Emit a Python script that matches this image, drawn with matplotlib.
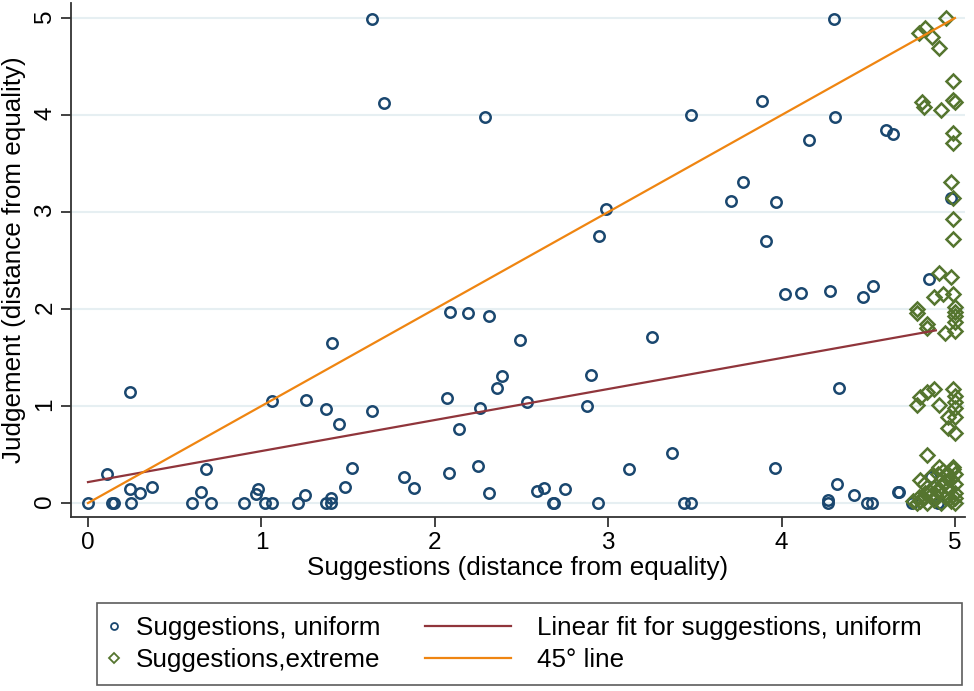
import numpy as np
import matplotlib
matplotlib.use("Agg")
import matplotlib.pyplot as plt
from matplotlib.lines import Line2D

plt.rcParams['font.family'] = ['Liberation Sans', 'DejaVu Sans']

# Suggestions, uniform (x = suggestion, y = judgement)
uniform_x = [0.00, 0.11, 0.14, 0.15, 0.24, 0.24, 0.25, 0.30, 0.37, 0.60,
             0.65, 0.68, 0.71, 0.90, 0.97, 0.98, 1.02, 1.06, 1.06, 1.21,
             1.25, 1.26, 1.37, 1.45, 1.41, 1.37, 1.40, 1.40, 1.48, 1.52,
             1.64, 1.82, 1.88, 2.07, 2.09, 2.19, 2.14, 2.08, 2.25, 2.26,
             2.31, 1.64, 1.71, 2.29, 2.31, 2.49, 3.25, 2.39, 2.36, 2.90,
             2.53, 2.88, 3.37, 3.12, 3.96, 2.59, 2.63, 2.75, 2.68, 2.69,
             2.94, 3.44, 3.48, 2.99, 2.95, 3.71, 3.78, 3.97, 3.91, 3.48,
             3.89, 4.16, 4.30, 4.31, 4.60, 4.64, 4.98, 4.85, 4.02, 4.11,
             4.28, 4.47, 4.53, 4.33, 4.27, 4.27, 4.32, 4.42, 4.49, 4.52,
             4.67, 4.68, 4.75, 4.86, 4.90]
uniform_y = [0.00, 0.30, 0.00, 0.00, 1.14, 0.14, 0.00, 0.10, 0.17, 0.00,
             0.11, 0.35, 0.00, 0.00, 0.09, 0.14, 0.00, 0.00, 1.05, 0.00,
             0.08, 1.06, 0.97, 0.81, 1.65, 0.00, 0.05, 0.00, 0.17, 0.36,
             0.95, 0.27, 0.15, 1.08, 1.97, 1.96, 0.76, 0.31, 0.38, 0.98,
             0.10, 4.99, 4.12, 3.98, 1.93, 1.68, 1.71, 1.31, 1.19, 1.32,
             1.04, 1.00, 0.52, 0.35, 0.36, 0.12, 0.15, 0.14, 0.00, 0.00,
             0.00, 0.00, 0.00, 3.03, 2.75, 3.11, 3.31, 3.10, 2.70, 4.00,
             4.14, 3.74, 4.99, 3.98, 3.85, 3.80, 3.14, 2.31, 2.16, 2.17,
             2.19, 2.12, 2.24, 1.19, 0.03, 0.00, 0.20, 0.08, 0.00, 0.00,
             0.11, 0.11, 0.00, 0.27, 0.00]

# Suggestions, extreme
extreme_x = [4.95, 4.83, 4.79, 4.87, 4.91, 4.99, 4.81, 4.82, 4.92, 4.99,
             5.00, 4.99, 4.99, 4.98, 4.99, 4.99, 4.99, 4.91, 4.98, 4.88,
             4.93, 4.99, 4.78, 4.78, 5.00, 5.00, 5.00, 4.84, 4.84, 4.94,
             5.00, 5.00, 4.78, 4.80, 4.84, 4.88, 4.91, 4.99, 5.00, 5.00,
             4.96, 5.00, 4.96, 5.00, 5.00, 4.84, 4.91, 4.99,
             4.78, 4.80, 4.82, 4.84, 4.86, 4.88, 4.90, 4.92, 4.94, 4.96,
             4.98, 5.00, 5.00, 5.00, 5.00, 4.98, 4.95, 4.92, 4.88, 4.85,
             4.82, 4.80, 4.86, 4.90, 4.93, 4.99, 4.97, 4.89, 4.83, 4.76,
             4.79, 5.00, 4.96]
extreme_y = [5.00, 4.90, 4.85, 4.80, 4.69, 4.35, 4.13, 4.08, 4.05, 4.15,
             4.13, 3.81, 3.71, 3.31, 3.14, 2.93, 2.72, 2.37, 2.33, 2.12,
             2.16, 2.15, 2.00, 1.96, 2.02, 1.97, 1.93, 1.85, 1.80, 1.75,
             1.87, 1.77, 1.01, 1.09, 1.14, 1.18, 1.01, 1.18, 1.10, 0.98,
             0.89, 0.89, 0.77, 0.72, 1.04, 0.50, 0.37, 0.37,
             0.00, 0.02, 0.05, 0.00, 0.08, 0.03, 0.12, 0.00, 0.06, 0.15,
             0.02, 0.00, 0.10, 0.20, 0.30, 0.25, 0.22, 0.18, 0.16, 0.12,
             0.20, 0.24, 0.28, 0.30, 0.33, 0.35, 0.05, 0.07, 0.10, 0.02,
             0.06, 0.05, 0.30]

# Linear fit and the 45 degree line
fit_x = [0.0, 4.89]
fit_y = [0.216, 1.78]
diag = [0, 5]

navy = '#1a476f'
green = '#55752f'
maroon = '#90353b'
orange = '#ef8511'
fs = 18.7

fig = plt.figure(figsize=(9.74, 6.91), dpi=100)
W, H = 974, 691
ax = fig.add_axes([71 / W, 1 - 517 / H, (965 - 71) / W, (517 - 3) / H])

ax.plot(uniform_x, uniform_y, 'o', ms=7.5, mfc='none', mec=navy, mew=1.8, ls='none')
ax.plot(extreme_x, extreme_y, 'D', ms=7.5, mfc='none', mec=green, mew=1.8, ls='none')
ax.plot(fit_x, fit_y, color=maroon, lw=1.6)
ax.plot(diag, diag, color=orange, lw=1.6)

ax.set_xlim(-0.098, 5.058)
ax.set_ylim(-0.144, 5.155)
ax.set_xticks([0, 1, 2, 3, 4, 5])
ax.set_yticks([0, 1, 2, 3, 4, 5])
ax.grid(axis='y', color='#e6eff2', lw=1.5)
ax.set_axisbelow(True)
for s in ['top', 'right']:
    ax.spines[s].set_visible(False)
for s in ['left', 'bottom']:
    ax.spines[s].set_color('#333333')
    ax.spines[s].set_linewidth(1.3)
ax.tick_params(axis='both', length=7, width=1.3, color='#333333', labelsize=17.5)
ax.tick_params(axis='y', labelrotation=90)
ax.set_xlabel('Suggestions (distance from equality)', fontsize=fs, labelpad=2)
ax.set_ylabel('Judgement (distance from equality)', fontsize=fs, labelpad=6)

# Legend: markers column with frame, lines column on top without frame
h1 = [Line2D([], [], marker='o', ls='none', ms=5, mfc='none', mec=navy, mew=1.3),
      Line2D([], [], marker='D', ls='none', ms=5, mfc='none', mec=green, mew=1.3)]
h2 = [Line2D([], [], color=maroon, lw=1.6), Line2D([], [], color=orange, lw=1.6)]
bp = 0.5
ls_ = 0.3
leg1 = fig.legend(h1, ['Suggestions, uniform', 'Suggestions,extreme'],
                  loc='upper left', bbox_to_anchor=(97 / W, 1 - 603 / H, 865 / W, 0),
                  mode='expand', fontsize=fs, frameon=True, fancybox=False,
                  edgecolor='#333333', borderpad=bp, handlelength=0.3,
                  handletextpad=0.7, labelspacing=ls_, borderaxespad=0)
leg1.get_frame().set_linewidth(1.2)
fs_px = fs * 100 / 72
leg2 = fig.legend(h2, ['Linear fit for suggestions, uniform', '45\u00b0 line'],
                  loc='upper left', bbox_to_anchor=((425 - bp * fs_px) / W, 1 - 603 / H),
                  fontsize=fs, frameon=False, borderpad=bp, handlelength=3.3,
                  handletextpad=1.0, labelspacing=ls_, borderaxespad=0)

fig.savefig('out.png', dpi=100)
